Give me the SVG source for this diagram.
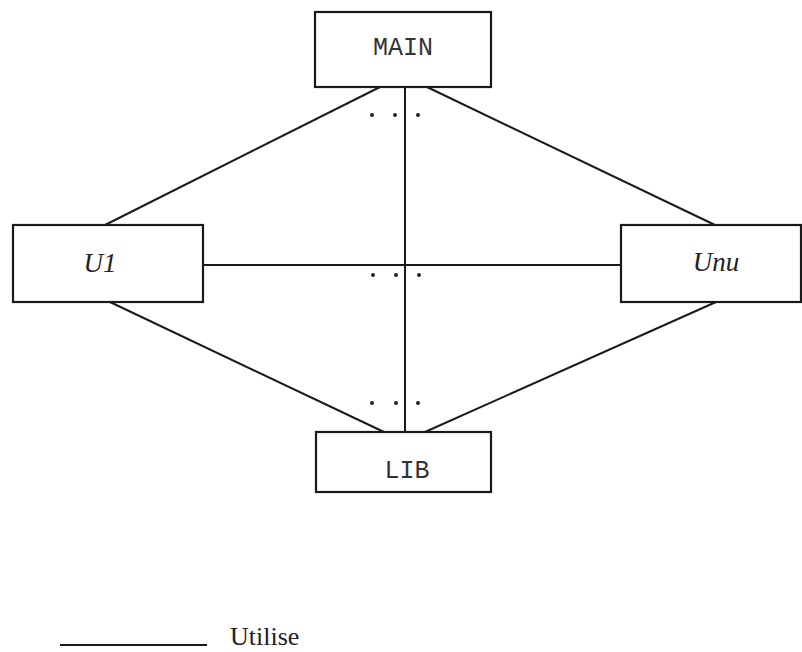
<svg xmlns="http://www.w3.org/2000/svg" width="802" height="652" viewBox="0 0 802 652">
  <style>
    .box { fill: #ffffff; stroke: #1a1a1a; stroke-width: 2.2; }
    .link { stroke: #1a1a1a; stroke-width: 2; fill: none; }
    .mono { font-family: "Liberation Mono", "Courier New", monospace; font-size: 25px; fill: #333; }
    .ital { font-family: "Liberation Serif", "Times New Roman", serif; font-style: italic; font-size: 27px; fill: #222; }
    .serif { font-family: "Liberation Serif", "Times New Roman", serif; font-size: 26px; fill: #222; }
    .dot { fill: #222; }
  </style>
  <rect width="802" height="652" fill="#ffffff"/>

  <!-- connectors -->
  <g id="connectors">
    <line class="link" x1="405" y1="87" x2="405" y2="432"/>
    <line class="link" x1="380" y1="87" x2="105" y2="225"/>
    <line class="link" x1="427" y1="87" x2="715" y2="225"/>
    <line class="link" x1="203" y1="265" x2="621" y2="265"/>
    <line class="link" x1="110" y1="302" x2="384" y2="432"/>
    <line class="link" x1="716" y1="302" x2="425" y2="432"/>
    <!-- ellipsis marks between parallel links -->
    <circle class="dot" cx="372" cy="115" r="2"/>
    <circle class="dot" cx="395" cy="115" r="2"/>
    <circle class="dot" cx="418" cy="115" r="2"/>
    <circle class="dot" cx="373" cy="275" r="2"/>
    <circle class="dot" cx="396" cy="275" r="2"/>
    <circle class="dot" cx="419" cy="275" r="2"/>
    <circle class="dot" cx="372" cy="403" r="2"/>
    <circle class="dot" cx="396" cy="403" r="2"/>
    <circle class="dot" cx="418" cy="403" r="2"/>
  </g>

  <g id="main">
    <rect class="box" x="315" y="12" width="176" height="75"/>
    <text class="mono" x="403" y="55" text-anchor="middle">MAIN</text>
  </g>

  <g id="u1">
    <rect class="box" x="13" y="225" width="190" height="77"/>
    <text class="ital" x="100" y="272" text-anchor="middle">U1</text>
  </g>

  <g id="unu">
    <rect class="box" x="621" y="225" width="180" height="77"/>
    <text class="ital" x="716" y="271" text-anchor="middle">Unu</text>
  </g>

  <g id="lib">
    <rect class="box" x="316" y="432" width="175" height="60"/>
    <text class="mono" x="407" y="478" text-anchor="middle">LIB</text>
  </g>

  <g id="legend">
    <line class="link" x1="60" y1="645" x2="207" y2="645"/>
    <text class="serif" x="230" y="645">Utilise</text>
  </g>
</svg>
